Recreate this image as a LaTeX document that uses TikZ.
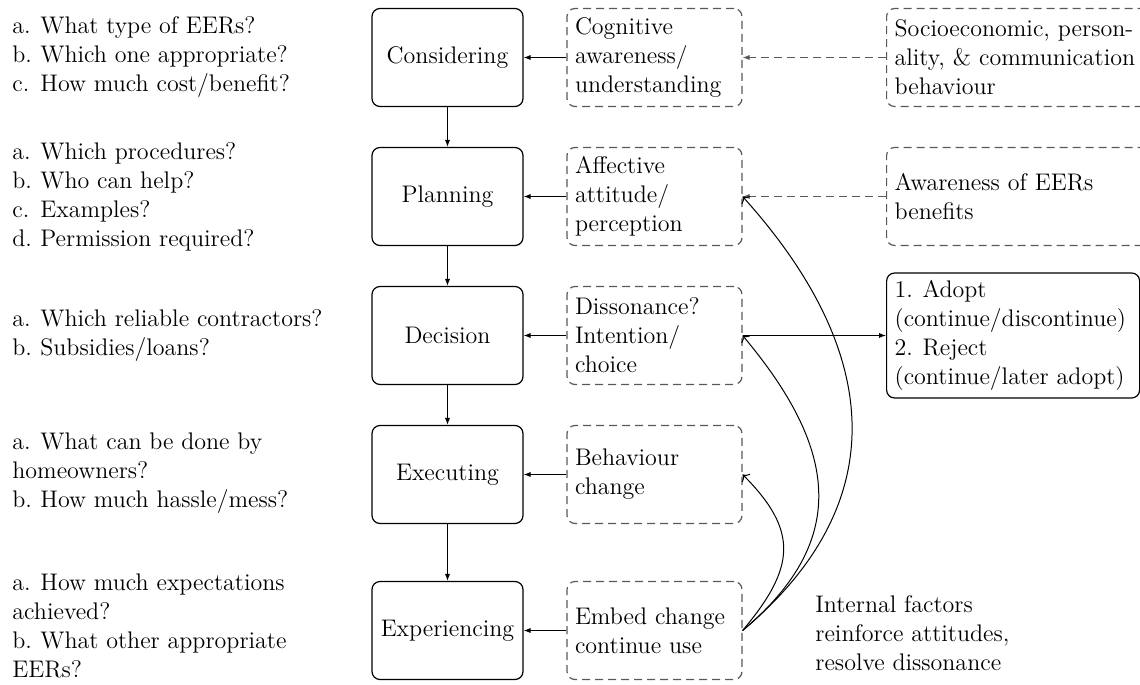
\documentclass[tikz,border=0pt]{standalone}
\usetikzlibrary{arrows.meta}
\newcommand\lbl[1]{\makebox[14pt][l]{#1}}
\begin{document}
\begin{tikzpicture}[x=0.5pt,y=-0.5pt,
  font=\fontsize{12}{14.5}\selectfont,
  stagebox/.style={draw, rounded corners=4pt, minimum width=75.5pt, minimum height=49pt, line width=0.6pt},
  factorbox/.style={draw=black!65, dash pattern=on 4pt off 2.5pt, rounded corners=4pt, minimum height=49pt, align=left, inner xsep=4pt, line width=0.6pt},
  midbox/.style={factorbox, text width=79.5pt},
  extbox/.style={factorbox, text width=132pt, anchor=west},
  resultbox/.style={draw, rounded corners=4pt, minimum height=62.5pt, text width=118.5pt, inner xsep=4pt, align=left, anchor=west, line width=0.6pt},
  question/.style={anchor=west, align=left, inner sep=0pt},
  sarrow/.style={-{Latex[length=3.5pt,width=2.6pt]}, line width=0.5pt},
  darrow/.style={-{Latex[length=3.5pt,width=2.6pt]}, line width=0.5pt, draw=black!65, dash pattern=on 4pt off 2.5pt},
  carrow/.style={->, line width=0.5pt}
]
\useasboundingbox (0,0) rectangle (1140,685);

% stages
\node[stagebox] (s1) at (447.5,57.5) {Considering};
\node[stagebox] (s2) at (447.5,196.5) {Planning};
\node[stagebox] (s3) at (447.5,335.5) {Decision};
\node[stagebox] (s4) at (447.5,474.5) {Executing};
\node[stagebox] (s5) at (447.5,630.5) {Experiencing};

% middle factors
\node[midbox] (f1) at (654.5,57.5) {Cognitive\\awareness/\\understanding};
\node[midbox] (f2) at (654.5,196.5) {Affective\\attitude/\\perception};
\node[midbox] (f3) at (654.5,335.5) {Dissonance?\\Intention/\\choice};
\node[midbox] (f4) at (654.5,474.5) {Behaviour\\change};
\node[midbox] (f5) at (654.5,630.5) {Embed change\\continue use};

% external factors
\node[extbox] (e1) at (886,57.5) {Socioeconomic, person-\\ality, \& communication\\behaviour};
\node[extbox] (e2) at (886,196.5) {Awareness of EERs\\benefits};

% result
\node[resultbox] (r) at (886,335.5) {\lbl{1.}Adopt\\(continue/discontinue)\\\lbl{2.}Reject\\(continue/later adopt)};

% internal factors label
\node[question] (int) at (815,633) {Internal factors\\reinforce attitudes,\\resolve dissonance};

% questions
\node[question] (q1) at (12,57.5) {\lbl{a.}What type of EERs?\\\lbl{b.}Which one appropriate?\\\lbl{c.}How much cost/benefit?};
\node[question] (q2) at (12,196.5) {\lbl{a.}Which procedures?\\\lbl{b.}Who can help?\\\lbl{c.}Examples?\\\lbl{d.}Permission required?};
\node[question] (q3) at (12,335.5) {\lbl{a.}Which reliable contractors?\\\lbl{b.}Subsidies/loans?};
\node[question] (q4) at (12,473.5) {\lbl{a.}What can be done by\\homeowners?\\\lbl{b.}How much hassle/mess?};
\node[question] (q5) at (12,626) {\lbl{a.}How much expectations\\achieved?\\\lbl{b.}What other appropriate\\EERs?};

% stage flow
\draw[sarrow] (s1.south) -- (s2.north);
\draw[sarrow] (s2.south) -- (s3.north);
\draw[sarrow] (s3.south) -- (s4.north);
\draw[sarrow] (s4.south) -- (s5.north);

% factors to stages
\draw[sarrow] (f1.west) -- (s1.east);
\draw[sarrow] (f2.west) -- (s2.east);
\draw[sarrow] (f3.west) -- (s3.east);
\draw[sarrow] (f4.west) -- (s4.east);
\draw[sarrow] (f5.west) -- (s5.east);

% external
\draw[darrow] (e1.west) -- (f1.east);
\draw[darrow] (e2.west) -- (f2.east);

% decision result
\draw[sarrow] (f3.east) -- (r.west);

% feedback curves
\draw[carrow] (f5.east) to[out=40,in=-48,looseness=1.2] (f2.east);
\draw[carrow] (f5.east) to[out=40,in=-50,looseness=1.25] (f3.east);
\draw[carrow] (f5.east) to[out=50,in=-45,looseness=1.33] (f4.east);
\end{tikzpicture}
\end{document}
